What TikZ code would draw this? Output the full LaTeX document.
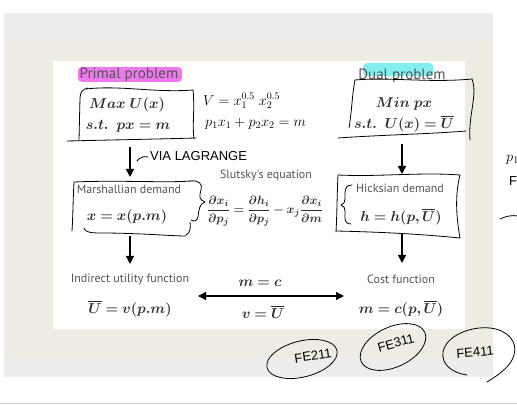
\documentclass[tikz,border=0pt]{standalone}
\usepackage{amsmath,bm}
\usepackage[no-math]{fontspec}
\newfontfamily\labelfont{PT Sans}
\newfontfamily\handfont{Liberation Sans}
\usetikzlibrary{arrows.meta}
\definecolor{beige}{RGB}{238,235,226}
\definecolor{graybg}{RGB}{237,237,237}
\definecolor{linegray}{RGB}{205,205,205}
\definecolor{txtgray}{RGB}{85,85,85}
\definecolor{mathgray}{RGB}{48,48,48}
\definecolor{magHL}{RGB}{238,120,238}
\definecolor{cyaHL}{RGB}{130,238,240}
\begin{document}
\begin{tikzpicture}[x=1pt,y=-1pt,
  lbl/.style={font=\labelfont\fontsize{12}{14}\selectfont, text=txtgray, inner sep=0pt},
  biglbl/.style={font=\labelfont\fontsize{15}{17}\selectfont, text=txtgray, inner sep=0pt},
  mth/.style={font=\fontsize{15}{18}\selectfont, text=mathgray, inner sep=0pt},
  hand/.style={line width=0.8pt, draw=black, line join=round, line cap=round},
  handtxt/.style={font=\fontsize{14}{16}\selectfont, inner sep=0pt},
  handcap/.style={font=\handfont\fontsize{13}{15}\selectfont, inner sep=0pt},
  arr/.style={-{Triangle[length=8pt,width=8pt]}, line width=1.4pt, black},
  darr/.style={{Triangle[length=8pt,width=8pt]}-{Triangle[length=8pt,width=8pt]}, line width=1.3pt, black},
]
\useasboundingbox (0,0) rectangle (517,406);
\fill[white] (0,0) rectangle (517,406);
\fill[graybg] (4,13) rectangle (493,40);
\fill[beige] (4,40) rectangle (493,358);
\fill[graybg] (4,358) rectangle (493,377);
\fill[white] (53,61) rectangle (465,329);
\draw[linegray, line width=0.8pt] (0,403) -- (517,403);

% highlights
\fill[magHL, rounded corners=4pt] (78,67) rectangle (182,82);
\fill[cyaHL, rounded corners=4pt] (363,63) rectangle (433,76);

% labels
\node[biglbl] (primal) at (129,75) {Primal problem};
\node[biglbl] (dual) at (402,76) {Dual problem};
\node[mth] (maxu) at (127,105) {$\boldsymbol{Max\;U(x)}$};
\node[mth] (st1) at (128,126) {$\boldsymbol{s.t.\;\; px=m}$};
\node[mth] (minpx) at (404,104) {$\boldsymbol{Min\;px}$};
\node[mth] (st2) at (404,124) {$\boldsymbol{s.t.\;\;U(x)=\overline{U}}$};

\node[lbl] (mlab) at (129,189) {Marshallian demand};
\node[mth] (mx) at (127,217) {$\boldsymbol{x=x(p.m)}$};
\node[lbl] (hlab) at (400,188) {Hicksian demand};
\node[mth] (hh) at (401,217) {$\boldsymbol{h=h(p,\overline{U})}$};
\node[lbl] (slab) at (266,175) {Slutsky's equation};
\node[mth, font=\fontsize{13}{15}\selectfont] (slut) at (265,211)
  {$\boldsymbol{\dfrac{\partial x_i}{\partial p_j}=\dfrac{\partial h_i}{\partial p_j}-x_j\dfrac{\partial x_i}{\partial m}}$};

\node[lbl] (ilab) at (130,279) {Indirect utility function};
\node[mth] (iv) at (130,309) {$\boldsymbol{\overline{U}=v(p.m)}$};
\node[lbl] (clab) at (401,279) {Cost function};
\node[mth] (cm) at (401,309) {$\boldsymbol{m=c(p,\overline{U})}$};
\node[mth] (meqc) at (260,283) {$\boldsymbol{m=c}$};
\node[mth] (veqU) at (263,312) {$\boldsymbol{v=\overline{U}}$};

% arrow endpoints
\coordinate (a1s) at (130,147); \coordinate (a1e) at (130,177);
\coordinate (a2s) at (130,236); \coordinate (a2e) at (130,264);
\coordinate (b1s) at (402,144); \coordinate (b1e) at (402,174);
\coordinate (b2s) at (402,233); \coordinate (b2e) at (402,263);
\coordinate (dl) at (198,296); \coordinate (dr) at (344,296);
\draw[arr] (a1s) -- (a1e);
\draw[arr] (a2s) -- (a2e);
\draw[arr] (b1s) -- (b1e);
\draw[arr] (b2s) -- (b2e);
\draw[darr] (dl) -- (dr);

% hand-drawn primal box
\draw[hand] (67,141) .. controls (110,140) and (160,139) .. (196,138);
\draw[hand] (88,88) .. controls (83,89) and (80,92) .. (80,98) -- (79,140);
\draw[hand] (86,89) .. controls (120,85) and (155,93) .. (193,90);
\draw[hand] (193,90) .. controls (195,110) and (192,125) .. (194,139);

% hand-drawn dual box
\draw[hand] (355,80) .. controls (390,77) and (430,83) .. (472,79);
\draw[hand] (355,80) .. controls (352,95) and (352,110) .. (349,128);
\draw[hand] (472,79) .. controls (478,95) and (468,115) .. (470,140);
\draw[hand] (338,138) .. controls (380,135) and (430,134) .. (466,131);

% hand-drawn Marshallian box with brace
\draw[hand] (74,182) .. controls (73,200) and (73,215) .. (72,231);
\draw[hand] (74,182) .. controls (120,180) and (165,183) .. (191,181);
\draw[hand] (190,181) .. controls (199,180) and (203,184) .. (201,190)
  .. controls (199,196) and (199,200) .. (205,202)
  .. controls (199,204) and (199,210) .. (198,217)
  .. controls (197,221) and (194,222) .. (191,220);
\draw[hand] (190,222) .. controls (191,228) and (190,233) .. (186,235);
\draw[hand] (84,228) .. controls (85,232) and (90,233) .. (100,233)
  .. controls (140,233) and (170,236) .. (186,236);

% hand-drawn Hicksian box with brace
\draw[hand] (338,175) .. controls (380,177) and (420,172) .. (460,175);
\draw[hand] (338,175) .. controls (337,195) and (337,215) .. (336,232);
\draw[hand] (460,175) .. controls (455,195) and (456,215) .. (460,238);
\draw[hand] (336,231) .. controls (380,232) and (420,234) .. (460,238);
\draw[hand] (352,185) .. controls (347,185) and (345,188) .. (345,193) -- (345,199)
  .. controls (345,202) and (344,204) .. (341,205)
  .. controls (344,206) and (345,208) .. (345,211) -- (345,218)
  .. controls (345,222) and (347,224) .. (351,224);

% handwriting
\node[handtxt, anchor=west] (hv) at (203,101) {$V = x_1^{0.5}\;x_2^{0.5}$};
\node[handtxt, anchor=west] (hp) at (205,124) {$p_1x_1 + p_2x_2 = m$};
\node[handcap, anchor=west] (via) at (150,156) {VIA LAGRANGE};
\draw[hand] (137,161) .. controls (140,157) and (144,156) .. (148,157);
\node[handtxt, anchor=west] (rp) at (506,160) {$p_1$};
\node[handcap, anchor=west] (rf) at (509,181) {F};
\draw[hand] (500,219) .. controls (506,216) and (512,215) .. (518,216);

% ellipses
\draw[hand, rotate around={14:(302,359)}] (302,359) ellipse [x radius=36pt, y radius=18pt];
\node[handcap, rotate=8] (fe2) at (313,356) {FE211};
\draw[hand, rotate around={25:(393,347)}] (393,347) ellipse [x radius=35pt, y radius=20pt];
\node[handcap, rotate=15] (fe3) at (396,343) {FE311};
\draw[hand] (467,375) .. controls (452,373) and (441,364) .. (443,352)
  .. controls (446,336) and (470,326) .. (490,328)
  .. controls (508,330) and (518,342) .. (514,355)
  .. controls (511,366) and (500,374) .. (487,382);
\node[handcap, rotate=5] (fe4) at (475,352) {FE411};
\end{tikzpicture}
\end{document}
